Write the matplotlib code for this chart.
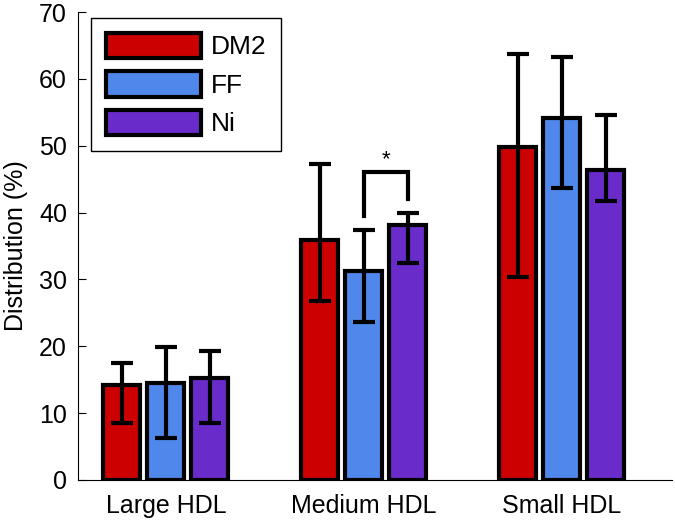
import numpy as np
import matplotlib
matplotlib.use("Agg")
import matplotlib.pyplot as plt

plt.rcParams['font.family'] = ['Liberation Sans', 'DejaVu Sans']

# data
categories = ["Large HDL", "Medium HDL", "Small HDL"]
groups = ["DM2", "FF", "Ni"]
colors = ["#CC0000", "#4F88EA", "#6A2BCB"]
means = {
    "DM2": [14.2, 35.9, 49.8],
    "FF": [14.5, 31.2, 54.1],
    "Ni": [15.2, 38.1, 46.4],
}
err_low = {
    "DM2": [8.5, 26.8, 30.3],
    "FF": [6.3, 23.6, 43.7],
    "Ni": [8.5, 32.5, 41.7],
}
err_high = {
    "DM2": [17.5, 47.3, 63.7],
    "FF": [19.9, 37.4, 63.3],
    "Ni": [19.3, 40.0, 54.6],
}

fig = plt.figure(figsize=(6.75, 5.21), dpi=100)
ax = fig.add_axes([0.1156, 0.0787, 0.88, 0.898])

x = np.arange(1, len(categories) + 1)
width = 0.187
step = 0.222
for i, g in enumerate(groups):
    pos = x + (i - 1) * step
    m = np.array(means[g])
    lo = m - np.array(err_low[g])
    hi = np.array(err_high[g]) - m
    ax.bar(pos, m, width, color=colors[i], edgecolor="black", linewidth=3, label=g, zorder=2)
    ax.errorbar(pos, m, yerr=[lo, hi], fmt="none", ecolor="black", elinewidth=3,
                capsize=8, capthick=3, zorder=3)

# significance bracket between FF and Ni, Medium HDL
xa = x[1]
xb = x[1] + step
ax.plot([xa, xa, xb, xb], [39.5, 46.1, 46.1, 42.0], color="black", linewidth=3,
        solid_joinstyle="miter", zorder=3)
ax.text((xa + xb) / 2, 46.4, "*", ha="center", va="bottom", fontsize=16)

ax.set_xlim(0.556, 3.556)
ax.set_ylim(0, 70)
ax.set_xticks(x)
ax.set_xticklabels(categories)
ax.set_yticks(np.arange(0, 71, 10))
ax.tick_params(axis="y", direction="in", length=6, labelsize=18, pad=8)
ax.tick_params(axis="x", length=0, labelsize=18, pad=10)
ax.set_ylabel("Distribution (%)", fontsize=18, labelpad=8)
ax.spines["top"].set_visible(False)
ax.spines["right"].set_visible(False)

leg = ax.legend(loc="upper left", bbox_to_anchor=(0.022, 0.987), fontsize=19,
                handlelength=3.6, handleheight=1.1, fancybox=False,
                edgecolor="black", framealpha=1, borderpad=0.55, labelspacing=0.45,
                handletextpad=0.4, borderaxespad=0)
leg.get_frame().set_linewidth(1)

fig.savefig("out.png", dpi=100)
